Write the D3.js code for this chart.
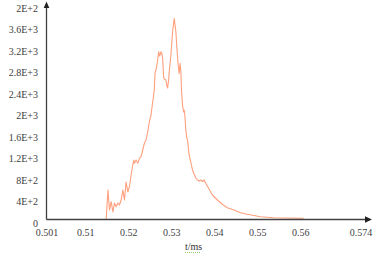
<!DOCTYPE html>
<html>
<head>
<meta charset="utf-8">
<script src="https://cdn.jsdelivr.net/npm/d3@7"></script>
<style>
  html, body { margin: 0; padding: 0; background: #fff; }
  svg { display: block; }
  text { font-family: "Liberation Serif", "Times New Roman", serif; }
</style>
</head>
<body>
<script>
// ---- data ----
const timeMs = [
  0.5010, 0.51488, 0.51528, 0.51565, 0.51604, 0.51643, 0.51680, 0.51720, 0.51759, 0.51796,
  0.51835, 0.51875, 0.51912, 0.51951, 0.51991, 0.52028, 0.52067, 0.52106, 0.52129, 0.52143,
  0.52183, 0.52222, 0.52259, 0.52298, 0.52338, 0.52375, 0.52414, 0.52453, 0.52490, 0.52530,
  0.52569, 0.52606, 0.52622, 0.52645, 0.52685, 0.52708, 0.52731, 0.52761, 0.52784, 0.52800,
  0.52823, 0.52837, 0.52877, 0.52900, 0.52916, 0.52939, 0.52953, 0.52976, 0.52992, 0.53032,
  0.53069, 0.53108, 0.53131, 0.53161, 0.53184, 0.53207, 0.53224, 0.53240, 0.53263, 0.53286,
  0.53300, 0.53316, 0.53339, 0.53362, 0.53379, 0.53416, 0.53455, 0.53494, 0.53531, 0.53571,
  0.53610, 0.53647, 0.53686, 0.53726, 0.53763, 0.53802, 0.53878, 0.53957, 0.54073, 0.54188,
  0.54304, 0.54457, 0.54612, 0.54767, 0.55075, 0.55382, 0.55692, 0.56076
];
const signal = [
  0, 0, 549, 177, 331, 140, 307, 238, 307, 270,
  363, 549, 363, 698, 512, 610, 828, 1014, 1107, 1045,
  1107, 1045, 1138, 1168, 1293, 1417, 1479, 1628, 1814, 1944,
  2186, 2409, 2719, 2781, 2967, 3121, 3041, 3121, 3078, 3004,
  2656, 2613, 2595, 2483, 2446, 2595, 2749, 2930, 3060, 3493,
  3742, 3493, 3190, 2874, 2719, 2905, 2749, 2377, 2130, 2000,
  2037, 1944, 1665, 1516, 1479, 1200, 1070, 921, 846, 772,
  735, 716, 735, 707, 735, 673, 567, 456, 363, 283,
  219, 177, 126, 97, 52, 33, 28, 22
];
const xTickValues = [0.501, 0.51, 0.52, 0.53, 0.54, 0.55, 0.56, 0.574];
const xTickLabels = ["0.501", "0.51", "0.52", "0.53", "0.54", "0.55", "0.56", "0.574"];
const yTickValues = [0, 400, 800, 1200, 1600, 2000, 2400, 2800, 3200, 3600, 4000];
const yTickLabels = ["0", "4E+2", "8E+2", "1.2E+3", "1.6E+3", "2E+3", "2.4E+3", "2.8E+3", "3.2E+3", "3.6E+3", "2E+2"];
const xTitle = "t/ms";

// ---- layout ----
const W = 376, H = 256;
const x0 = 46.5, y0 = 219.5;
const x = d3.scaleLinear().domain([0.501, 0.574]).range([x0, 360.5]);
const y = d3.scaleLinear().domain([0, 4000]).range([y0, 4.5]);

const svg = d3.select("body").append("svg").attr("width", W).attr("height", H);
svg.append("rect").attr("width", W).attr("height", H).attr("fill", "#fff");

const textColor = "#404040";
const axisColor = "#404040";

// x tick labels
const gx = svg.append("g").attr("transform", `translate(0,${y0})`)
  .call(d3.axisBottom(x).tickValues(xTickValues).tickSize(0).tickPadding(9.7)
    .tickFormat((d, i) => xTickLabels[i]));
gx.select(".domain").remove();
gx.selectAll("text").attr("font-size", 10).attr("fill", textColor)
  .attr("font-family", '"Liberation Serif", "Times New Roman", serif');

// y tick labels
const gy = svg.append("g").attr("transform", `translate(${x0},0)`)
  .call(d3.axisLeft(y).tickValues(yTickValues).tickSize(0).tickPadding(8.5)
    .tickFormat((d, i) => yTickLabels[i]));
gy.select(".domain").remove();
gy.selectAll("text").attr("font-size", 10).attr("fill", textColor).attr("dy", "0.68em")
  .attr("font-family", '"Liberation Serif", "Times New Roman", serif');

// curve
const pts = timeMs.map((t, i) => [t, signal[i]]);
svg.append("path").datum(pts)
  .attr("fill", "none")
  .attr("stroke", "#ff9f7c")
  .attr("stroke-width", 1.1)
  .attr("stroke-linejoin", "round")
  .attr("d", d3.line().x(d => x(d[0])).y(d => y(d[1])));

// axes with arrows
svg.append("line").attr("x1", x0).attr("x2", 366).attr("y1", y0).attr("y2", y0)
  .attr("stroke", axisColor).attr("stroke-width", 1.3);
svg.append("path").attr("d", `M372,${y0} L365,${y0 - 3.2} L365,${y0 + 3.2} Z`).attr("fill", "#222");
svg.append("line").attr("x1", x0).attr("x2", x0).attr("y1", y0).attr("y2", 7)
  .attr("stroke", axisColor).attr("stroke-width", 1.3);
svg.append("path").attr("d", `M${x0},1.5 L${x0 - 2.8},8 L${x0 + 2.8},8 Z`).attr("fill", "#222");

// axis title
svg.append("text").attr("x", 185).attr("y", 250).attr("font-size", 10)
  .attr("fill", "#333").text(xTitle);
svg.append("line").attr("x1", 185).attr("x2", 201).attr("y1", 252.5).attr("y2", 252.5)
  .attr("stroke", "#7fbf3f").attr("stroke-width", 0.8).attr("stroke-dasharray", "1,1");
</script>
</body>
</html>
